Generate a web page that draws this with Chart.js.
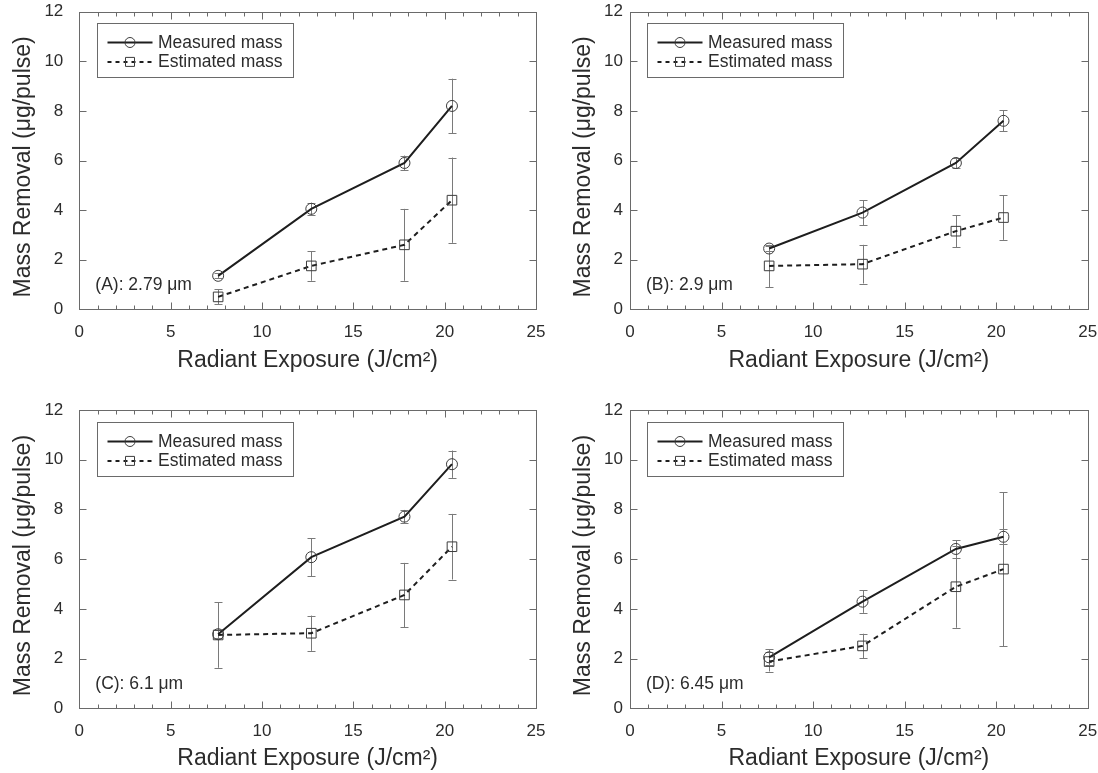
<!DOCTYPE html>
<html>
<head>
<meta charset="utf-8">
<script src="https://cdn.jsdelivr.net/npm/chart.js@4.4.1/dist/chart.umd.min.js"></script>
<style>
html,body{margin:0;padding:0;background:#fff;}
#wrap{position:relative;width:1098px;height:773px;overflow:hidden;background:#fff;}
#wrap canvas{position:absolute;}
</style>
</head>
<body>
<div id="wrap">
<canvas id="cA" width="549" height="386" style="left:0px;top:0px"></canvas>
<canvas id="cB" width="549" height="386" style="left:549px;top:0px"></canvas>
<canvas id="cC" width="549" height="386" style="left:0px;top:387px"></canvas>
<canvas id="cD" width="549" height="386" style="left:549px;top:387px"></canvas>
</div>
<script>
// ---------------- data ----------------
const exposure = [7.6, 12.7, 17.8, 20.4];           // Radiant exposure (J/cm^2)
const xTicks = [0, 5, 10, 15, 20, 25];
const yTicks = [0, 2, 4, 6, 8, 10, 12];
const seriesNames = ['Measured mass', 'Estimated mass'];
const xTitle = 'Radiant Exposure (J/cm²)';
const yTitle = 'Mass Removal (μg/pulse)';
const panelLabels = ['(A): 2.79 μm', '(B): 2.9 μm', '(C): 6.1 μm', '(D): 6.45 μm'];

const measuredA = [1.35, 4.05, 5.9, 8.2];
const measuredErrA = [0.1, 0.25, 0.3, 1.1];
const estimatedA = [0.5, 1.75, 2.6, 4.4];
const estimatedErrA = [0.3, 0.6, 1.45, 1.72];

const measuredB = [2.45, 3.9, 5.9, 7.6];
const measuredErrB = [0.1, 0.5, 0.2, 0.42];
const estimatedB = [1.75, 1.82, 3.15, 3.7];
const estimatedErrB = [0.85, 0.78, 0.64, 0.9];

const measuredC = [2.98, 6.08, 7.71, 9.82];
const measuredErrC = [0.15, 0.77, 0.27, 0.55];
const estimatedC = [2.95, 3.02, 4.56, 6.5];
const estimatedErrC = [1.32, 0.71, 1.29, 1.32];

const measuredD = [2.05, 4.29, 6.41, 6.9];
const measuredErrD = [0.32, 0.45, 0.35, 0.3];
const estimatedD = [1.88, 2.51, 4.89, 5.6];
const estimatedErrD = [0.4, 0.49, 1.65, 3.1];

// ---------------- styling / layout ----------------
const FONT = "'Liberation Sans', Arial, Helvetica, sans-serif";
const TEXT = '#2c2c2c';
const FRAME = '#6a6a6a';
Chart.defaults.font.family = FONT;
Chart.defaults.color = TEXT;

const panels = [
  { id: 'cA', label: panelLabels[0], m: measuredA, me: measuredErrA, e: estimatedA, ee: estimatedErrA,
    area: { l: 79.3, r: 536, t: 11.7, b: 309.3 }, yTickPad: 16, yTitlePad: 10, xTitlePad: 12 },
  { id: 'cB', label: panelLabels[1], m: measuredB, me: measuredErrB, e: estimatedB, ee: estimatedErrB,
    area: { l: 81, r: 538.7, t: 11.7, b: 309.3 }, yTickPad: 7, yTitlePad: 21, xTitlePad: 12 },
  { id: 'cC', label: panelLabels[2], m: measuredC, me: measuredErrC, e: estimatedC, ee: estimatedErrC,
    area: { l: 79.3, r: 536, t: 23, b: 321.3 }, yTickPad: 16, yTitlePad: 10, xTitlePad: 1 },
  { id: 'cD', label: panelLabels[3], m: measuredD, me: measuredErrD, e: estimatedD, ee: estimatedErrD,
    area: { l: 81, r: 538.7, t: 23, b: 321.3 }, yTickPad: 7, yTitlePad: 21, xTitlePad: 1 }
];

const panelPlugin = {
  id: 'panel',
  beforeDatasetsDraw(chart) {
    const ctx = chart.ctx, xs = chart.scales.x, ys = chart.scales.y;
    ctx.save();
    ctx.strokeStyle = '#7a7a7a';
    ctx.lineWidth = 1;
    ctx.setLineDash([]);
    chart.data.datasets.forEach(ds => {
      ds.data.forEach((pt, i) => {
        const err = ds.errors[i];
        const px = Math.round(xs.getPixelForValue(pt.x)) + 0.5;
        const y1 = ys.getPixelForValue(pt.y + err);
        const y2 = ys.getPixelForValue(pt.y - err);
        ctx.beginPath();
        ctx.moveTo(px, y1); ctx.lineTo(px, y2);
        ctx.moveTo(px - 4, Math.round(y1) + 0.5); ctx.lineTo(px + 4, Math.round(y1) + 0.5);
        ctx.moveTo(px - 4, Math.round(y2) + 0.5); ctx.lineTo(px + 4, Math.round(y2) + 0.5);
        ctx.stroke();
      });
    });
    ctx.restore();
  },
  afterDraw(chart) {
    const ctx = chart.ctx, ca = chart.chartArea, xs = chart.scales.x, ys = chart.scales.y;
    const opts = chart.options.plugins.panel;
    ctx.save();
    // frame
    ctx.strokeStyle = FRAME;
    ctx.lineWidth = 1;
    const L = Math.round(ca.left) + 0.5, R = Math.round(ca.right) + 0.5;
    const T = Math.round(ca.top) + 0.5, B = Math.round(ca.bottom) + 0.5;
    ctx.strokeRect(L, T, R - L, B - T);
    // inward ticks
    ctx.beginPath();
    for (let v = xTicks[0]; v <= xTicks[xTicks.length - 1]; v += 1) {
      const px = Math.round(xs.getPixelForValue(v)) + 0.5;
      const len = xTicks.includes(v) ? 7 : 4;
      ctx.moveTo(px, B); ctx.lineTo(px, B - len);
      ctx.moveTo(px, T); ctx.lineTo(px, T + len);
    }
    yTicks.forEach(v => {
      const py = Math.round(ys.getPixelForValue(v)) + 0.5;
      ctx.moveTo(L, py); ctx.lineTo(L + 7, py);
      ctx.moveTo(R, py); ctx.lineTo(R - 7, py);
    });
    ctx.stroke();

    // legend box
    const bx = Math.round(ca.left + 17.4) + 0.5, by = Math.round(ca.top + 11.6) + 0.5;
    const bw = 196, bh = 54;
    ctx.strokeRect(bx, by, bw, bh);
    ctx.font = '17.5px ' + FONT;
    ctx.textBaseline = 'middle';
    ctx.textAlign = 'left';
    chart.data.datasets.forEach((ds, i) => {
      const cy = by + 19 + i * 19.4;
      ctx.strokeStyle = ds.borderColor;
      ctx.lineWidth = ds.borderWidth;
      ctx.setLineDash(ds.legendDash || []);
      ctx.beginPath();
      ctx.moveTo(bx + 10, cy); ctx.lineTo(bx + 55, cy);
      ctx.stroke();
      ctx.setLineDash([]);
      ctx.lineWidth = 1;
      ctx.strokeStyle = ds.pointBorderColor;
      const mx = bx + 32.5;
      ctx.beginPath();
      if (ds.pointStyle === 'circle') {
        ctx.arc(mx, cy, 5, 0, Math.PI * 2);
      } else {
        ctx.rect(mx - 4.5, cy - 4.5, 9, 9);
      }
      ctx.stroke();
      ctx.fillStyle = TEXT;
      ctx.fillText(ds.label, bx + 60.5, cy + 0.5);
    });

    // panel label
    ctx.fillStyle = TEXT;
    ctx.font = '17.5px ' + FONT;
    ctx.textBaseline = 'middle';
    ctx.fillText(opts.label, ca.left + 16, ca.bottom - 24.5);
    ctx.restore();
  }
};

function buildPanel(p) {
  const canvas = document.getElementById(p.id);
  const W = canvas.width, H = canvas.height;
  return new Chart(canvas, {
    type: 'line',
    data: {
      datasets: [
        {
          label: seriesNames[0],
          data: exposure.map((x, i) => ({ x: x, y: p.m[i] })),
          errors: p.me,
          borderColor: '#1e1e1e',
          borderWidth: 2,
          pointStyle: 'circle',
          pointRadius: 5.5,
          pointHoverRadius: 5.5,
          pointBorderColor: '#3c3c3c',
          pointBorderWidth: 1,
          pointBackgroundColor: 'rgba(255,255,255,0)',
          tension: 0
        },
        {
          label: seriesNames[1],
          data: exposure.map((x, i) => ({ x: x, y: p.e[i] })),
          errors: p.ee,
          borderColor: '#1e1e1e',
          borderWidth: 2,
          borderDash: [5, 4],
          legendDash: [4, 4],
          pointStyle: 'rect',
          pointRadius: 6.8,
          pointHoverRadius: 6.8,
          pointBorderColor: '#3c3c3c',
          pointBorderWidth: 1,
          pointBackgroundColor: 'rgba(255,255,255,0)',
          tension: 0
        }
      ]
    },
    options: {
      responsive: false,
      animation: false,
      devicePixelRatio: 1,
      events: [],
      layout: { padding: { top: p.area.t, right: W - p.area.r, left: 0, bottom: 0 } },
      plugins: {
        legend: { display: false },
        tooltip: { enabled: false },
        panel: { label: p.label }
      },
      scales: {
        x: {
          type: 'linear',
          min: xTicks[0],
          max: xTicks[xTicks.length - 1],
          afterBuildTicks: s => { s.ticks = xTicks.map(v => ({ value: v })); },
          afterFit: s => { s.height = H - p.area.b; s.paddingLeft = 0; s.paddingRight = 0; },
          grid: { display: false, drawTicks: false },
          border: { display: false },
          ticks: { padding: 13, font: { size: 17 }, color: TEXT, maxRotation: 0, autoSkip: false },
          title: { display: true, text: xTitle, font: { size: 23 }, color: TEXT, padding: { top: 0, bottom: p.xTitlePad } }
        },
        y: {
          type: 'linear',
          min: yTicks[0],
          max: yTicks[yTicks.length - 1],
          afterBuildTicks: s => { s.ticks = yTicks.map(v => ({ value: v })); },
          afterFit: s => { s.width = p.area.l; s.paddingTop = 0; s.paddingBottom = 0; },
          grid: { display: false, drawTicks: false },
          border: { display: false },
          ticks: { padding: p.yTickPad, font: { size: 17 }, color: TEXT, autoSkip: false },
          title: { display: true, text: yTitle + '\u00a0\u00a0', font: { size: 23 }, color: TEXT, padding: { top: p.yTitlePad, bottom: 0 } }
        }
      }
    },
    plugins: [panelPlugin]
  });
}

panels.forEach(buildPanel);
</script>
</body>
</html>
